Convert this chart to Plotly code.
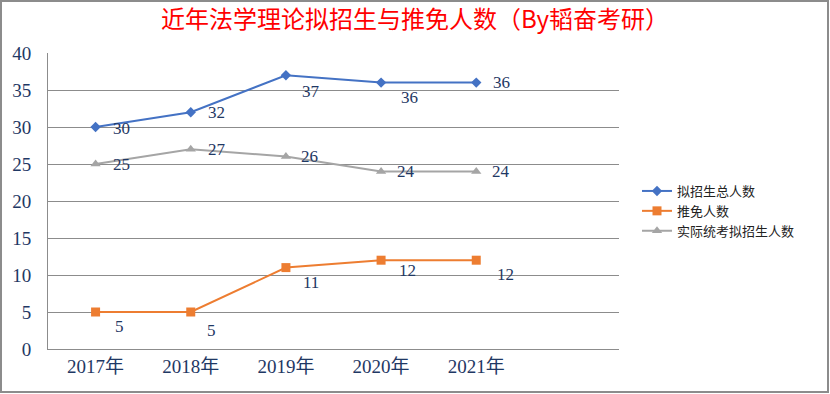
import plotly.graph_objects as go

years = ["2017年", "2018年", "2019年", "2020年", "2021年"]
total_quota = [30, 32, 37, 36, 36]
exempt = [5, 5, 11, 12, 12]
exam_quota = [25, 27, 26, 24, 24]
series_names = ["拟招生总人数", "推免人数", "实际统考拟招生人数"]
title_text = "近年法学理论拟招生与推免人数（By韬奋考研）"

# label offsets (px, right / down) per series, style only
label_offsets = {
    0: [(26, 1), (26, 0), (25, 16), (28, 15), (25, 0)],
    1: [(24, 14), (21, 18), (25, 15), (26, 10), (29, 14)],
    2: [(26, 0), (26, 0), (24, 0), (25, 0), (25, 0)],
}

colors = ["#4472C4", "#ED7D31", "#A5A5A5"]
symbols = ["diamond", "square", "triangle-up"]
msizes = [8, 9, 9]
label_color = "#1F3864"
serif = "Liberation Serif, Times New Roman, Noto Sans CJK SC, serif"

fig = go.Figure()
all_series = [total_quota, exempt, exam_quota]
for i, vals in enumerate(all_series):
    fig.add_trace(go.Scatter(
        x=years, y=vals, name=series_names[i], mode="lines+markers",
        line=dict(color=colors[i], width=2),
        marker=dict(symbol=symbols[i], size=msizes[i], color=colors[i]),
    ))

annotations = []
for i, vals in enumerate(all_series):
    for j, (yr, v) in enumerate(zip(years, vals)):
        dx, dy = label_offsets[i][j]
        annotations.append(dict(
            x=yr, y=v, xref="x", yref="y", text=str(v), showarrow=False,
            xshift=dx, yshift=-dy,
            font=dict(family=serif, size=17, color=label_color),
        ))

L, R, T, B = 48, 619, 53, 349
W, H = 830, 394
pw, ph = R - L, B - T

fig.update_layout(
    width=W, height=H,
    margin=dict(l=L, r=W - R, t=T, b=H - B, pad=0),
    paper_bgcolor="white", plot_bgcolor="white",
    title=dict(text=title_text, x=0.5, xanchor="center", y=1 - 20 / H, yanchor="middle",
               font=dict(family="Noto Sans CJK SC", size=24, color="#FF0000")),
    xaxis=dict(type="category", range=[-0.5, 5.5], showgrid=False, showline=True,
               linecolor="#8C8C8C", linewidth=1, ticks="",
               tickfont=dict(family=serif, size=19, color=label_color)),
    yaxis=dict(range=[0, 40], dtick=5, showgrid=True, gridcolor="#8C8C8C", gridwidth=1,
               showline=True, linecolor="#8C8C8C", linewidth=1, ticks="", zeroline=False,
               ticklabelstandoff=12,
               tickfont=dict(family=serif, size=19, color=label_color)),
    legend=dict(x=(637 - L) / pw, xanchor="left", y=(B - 176) / ph, yanchor="top",
                font=dict(family="Noto Sans CJK SC", size=13, color="#222222"),
                bgcolor="rgba(0,0,0,0)", tracegroupgap=0, itemwidth=30),
    annotations=annotations,
    shapes=[dict(type="rect", xref="paper", yref="paper",
                 x0=(1 - L) / pw, x1=(W - 2 - L) / pw,
                 y0=(B - (H - 2)) / ph, y1=(B - 1) / ph,
                 line=dict(color="#8C8C8C", width=2), fillcolor="rgba(0,0,0,0)")],
)

fig.write_html("out.html", config={"displayModeBar": False},
               post_script="document.body.style.margin='0';document.body.style.overflow='hidden';")
